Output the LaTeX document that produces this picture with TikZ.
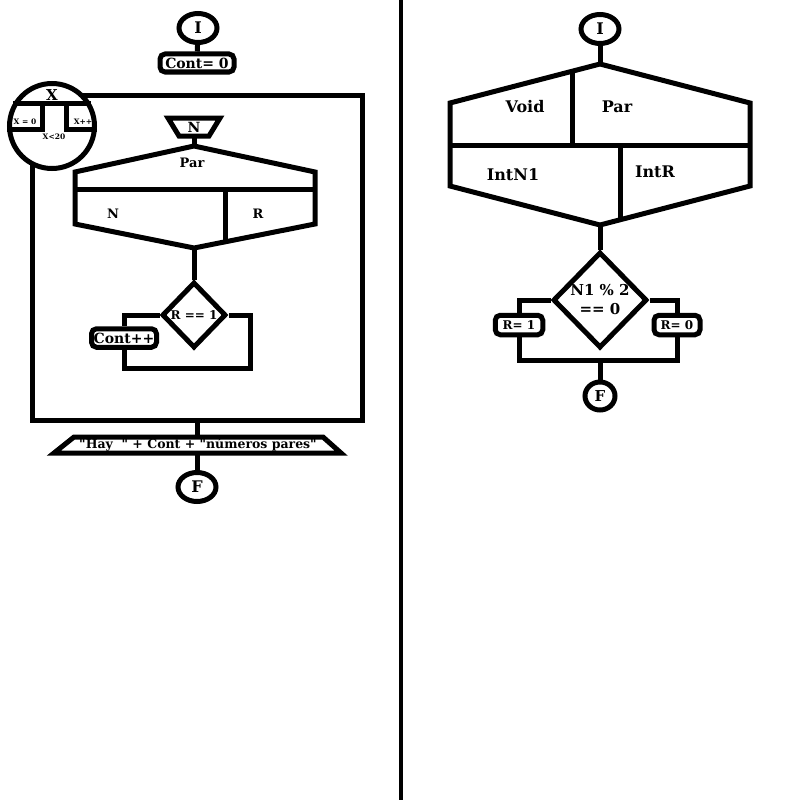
\documentclass[tikz,border=0pt]{standalone}
\usepackage{fontspec}
\setmainfont{DejaVu Serif}[Ligatures=TeXOff]
\usetikzlibrary{shapes.geometric,positioning}
\tikzset{
  ln/.style={line width=5pt},
  term/.style={draw,ellipse,ln,inner sep=0pt,minimum width=38,minimum height=29,font=\fontsize{16}{18}\selectfont\bfseries},
  proc/.style={draw,ln,rounded corners=5pt,inner sep=1pt,font=\fontsize{13}{15}\selectfont\bfseries},
  cond/.style={draw,diamond,ln,inner sep=0pt,aspect=1},
  lbl/.style={inner sep=0pt},
}
\begin{document}
\begin{tikzpicture}[x=1pt,y=-1pt]
\useasboundingbox(0,0)rectangle(800,800);
\draw[line width=4pt](401,0)--(401,800);
% izquierda: programa principal
\node[term](iA) at (198,28){I};
\node[proc,minimum width=74,minimum height=18,font=\fontsize{14}{16}\selectfont\bfseries](cero) at (197,63){Cont= 0};
\draw[ln](iA)--(cero);
\node[draw,ln,minimum width=330,minimum height=325](body) at (197,258){};
\node[draw,circle,ln,fill=white,minimum size=85](lp) at (52,126){};
\draw[ln](lp.150)--(lp.30);
\draw[ln](lp.185)-|(42,105);
\draw[ln](lp.-5)-|(66,105);
\draw[ln](168,118)--(220,118)--(209,136)--(179,136)--cycle;
\coordinate(nB) at (194,136);
\draw[ln](194,146)coordinate(hT)--(315,172)--(315,224)--(194,248)coordinate(hB)--(75,224)--(75,172)--cycle;
\draw[ln](75,189)--(315,189) (225,189)--(225,242);
\draw[ln](nB)--(hT);
\foreach \px/\py/\fsz/\lb/\nm in {52/95/15/X/lX,25/122/7.5/{X = 0}/lXi,83/122/7.5/{X++}/lXs,54/137/7.5/{X<20}/lXc,194/127/14/N/inN,192/163/13/Par/lPar,113/214/13/N/lN,258/214/13/R/lR}
  {\node[lbl,font=\fontsize{\fsz}{\fsz}\selectfont\bfseries](\nm) at (\px,\py){\lb};}
\node[cond,minimum width=64,minimum height=66,font=\fontsize{12}{14}\selectfont\bfseries](dA) at (194,315){R == 1};
\draw[ln](hB)--(dA.north);
\node[proc,minimum width=65,minimum height=18.5,font=\fontsize{14}{16}\selectfont\bfseries](inc) at (124,338){Cont++};
\draw[ln](dA.west)-|(inc.north);
\draw[ln](inc.south)|-(250,368)|-(dA.east);
\draw[ln](74,437)--(323,437)--(341,453)--(54,453)--cycle;
\coordinate(oT) at (197,437);
\coordinate(oB) at (197,453);
\node[lbl,font=\fontsize{12.5}{14}\selectfont\bfseries](outP) at (198,445){"Hay\ \ " + Cont + "números pares"};
\draw[ln](body.south)--(oT);
\node[term](fA) at (197,487){F};
\draw[ln](oB)--(fA);
% derecha: funcion Par
\node[term](iB) at (600,29){I};
\draw[ln](600,64)coordinate(gT)--(750,103)--(750,186)--(600,225)coordinate(gB)--(450,186)--(450,103)--cycle;
\draw[ln](450,145)--(750,145) (572,71.5)--(572,145) (620,145)--(620,220);
\draw[ln](iB)--(gT);
\foreach \px/\py/\lb/\nm in {525/107/Void/lVoid,617/107/Par/lParB,513/175/IntN1/lN1,655/172/IntR/lIR}
  {\node[lbl,font=\fontsize{16}{18}\selectfont\bfseries](\nm) at (\px,\py){\lb};}
\node[cond,minimum width=94,minimum height=96,align=center,font=\fontsize{15}{19}\selectfont\bfseries](dB) at (600,300){N1 \% 2\\== 0};
\draw[ln](gB)--(dB.north);
\node[proc,minimum width=47.5,minimum height=19.5,font=\fontsize{12}{14}\selectfont\bfseries](rU) at (519,325){R= 1};
\node[proc,minimum width=46,minimum height=19.5,font=\fontsize{12}{14}\selectfont\bfseries](rC) at (677,325){R= 0};
\draw[ln](dB.west)-|(rU.north);
\draw[ln](dB.east)-|(rC.north);
\draw[ln](rU.south)--++(0,23)-|(rC.south);
\coordinate(jn) at (600,358);
\node[term,minimum width=30,minimum height=28,font=\fontsize{15}{17}\selectfont\bfseries](fB) at (600,396){F};
\draw[ln](jn)--(fB);
\end{tikzpicture}
\end{document}
